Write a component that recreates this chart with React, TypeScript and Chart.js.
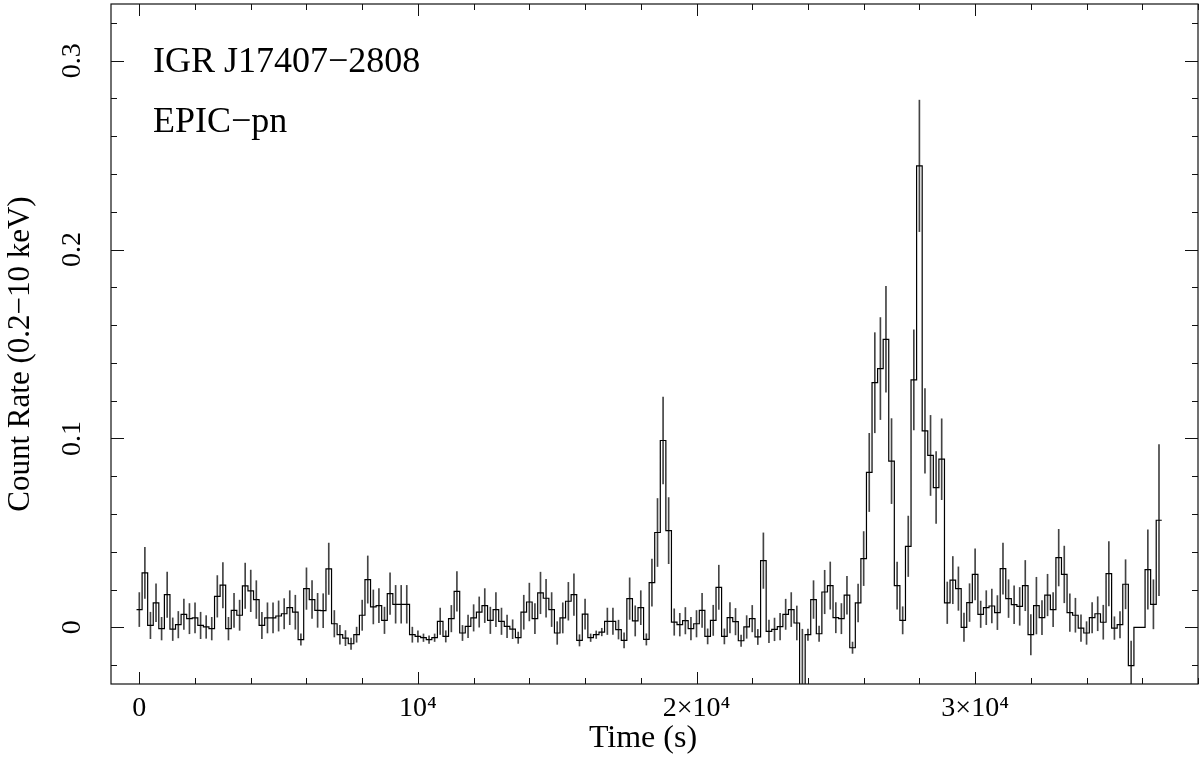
import React, { useEffect, useRef } from 'react';
import { Chart, registerables } from 'chart.js';

Chart.register(...registerables);

// Light curve: 200 s bins, bin k centred at k * 200 s
const binWidthSec = 200;

const countRate: number[] = [
  0.0094, 0.0288, 0.001, 0.013, -0.0007, 0.0173, -0.001, 0.0014, 0.0069, 0.0046,
  0.005, 0.001, 0.0002, -0.0007, 0.0164, 0.0223, -0.0007, 0.009, 0.0064, 0.022,
  0.0193, 0.0147, 0.001, 0.005, 0.005, 0.006, 0.0072, 0.0104, 0.008, -0.0065,
  0.0205, 0.0147, 0.009, 0.0088, 0.031, 0.0019, -0.0039, -0.0057, -0.0087, -0.0039,
  0.0064, 0.0253, 0.0108, 0.0115, 0.0037, 0.0178, 0.0122, 0.0122, 0.0122, -0.0039,
  -0.0048, -0.0055, -0.0065, -0.0055, 0.0032, -0.0048, 0.0046, 0.019, -0.003, 0.0005,
  0.005, 0.0081, 0.0115, 0.0037, 0.0094, 0.0032, 0.0005, -0.001, -0.0055, 0.008,
  0.0134, 0.0046, 0.0182, 0.0154, 0.0094, -0.003, 0.005, 0.0138, 0.0173, -0.0069,
  0.007, -0.0055, -0.0039, -0.0025, 0.0032, 0.0032, -0.0012, -0.0069, 0.0152, 0.0034,
  0.0104, -0.0064, 0.0237, 0.0502, 0.0989, 0.0512, 0.0028, 0.0014, 0.0035, -0.0007,
  0.0019, 0.009, -0.0048, 0.0037, 0.0212, -0.0048, 0.0051, 0.003, -0.0071, 0.0002,
  0.0046, -0.0051, 0.0353, -0.0021, -0.0011, 0.0004, 0.0069, 0.0094, 0.0023, -0.04,
  -0.0039, 0.0147, -0.0034, 0.0187, 0.0221, 0.0051, 0.0046, 0.017, -0.0108, 0.0129,
  0.0364, 0.082, 0.1295, 0.137, 0.1525, 0.088, 0.0221, 0.0037, 0.0429, 0.131,
  0.2443, 0.104, 0.091, 0.074, 0.089, 0.013, 0.025, 0.0205, 0.0, 0.0131,
  0.028, 0.0069, 0.0104, 0.0113, 0.0078, 0.0311, 0.0152, 0.012, 0.0111, 0.0221,
  -0.0039, 0.0115, 0.0051, 0.0171, 0.0094, 0.0369, 0.028, 0.0078, 0.0064, -0.0004,
  -0.003, 0.0051, 0.0072, 0.0027, 0.0284, -0.0004, 0.0014, 0.0228, -0.0203, 0.0,
  0.0, 0.0306, 0.0122, 0.0567,
];

// 1-sigma errors (null = bin drawn without an error bar)
const rateError: (number | null)[] = [
  0.009, 0.0135, 0.007, 0.01, 0.006, 0.012, 0.006, 0.007, 0.008, 0.008,
  0.008, 0.007, 0.006, 0.006, 0.011, 0.012, 0.006, 0.009, 0.008, 0.012,
  0.011, 0.01, 0.007, 0.008, 0.008, 0.008, 0.008, 0.009, 0.009, 0.003,
  0.011, 0.01, 0.009, 0.009, 0.0136, 0.007, 0.005, 0.004, 0.003, 0.004,
  0.008, 0.0125, 0.009, 0.009, 0.007, 0.011, 0.01, 0.01, 0.01, 0.004,
  0.003, 0.002, 0.002, 0.002, 0.007, 0.003, 0.007, 0.0105, 0.004, 0.006,
  0.007, 0.008, 0.009, 0.007, 0.009, 0.007, 0.006, 0.005, 0.003, 0.009,
  0.01, 0.008, 0.011, 0.01, 0.009, 0.006, 0.008, 0.01, 0.011, 0.003,
  0.008, 0.002, 0.002, 0.002, 0.007, 0.007, 0.005, 0.004, 0.011, 0.008,
  0.009, 0.003, 0.0125, 0.018, 0.023, 0.0175, 0.007, 0.006, 0.007, 0.006,
  0.007, 0.009, 0.004, 0.008, 0.0117, 0.004, 0.008, 0.007, 0.003, 0.006,
  0.007, 0.004, 0.0147, 0.006, 0.006, 0.007, 0.008, 0.009, 0.009, 0.039,
  0.003, 0.01, 0.004, 0.0115, 0.0125, 0.008, 0.008, 0.01, 0.003, 0.01,
  0.0143, 0.0207, 0.0265, 0.027, 0.028, 0.0225, 0.0125, 0.0072, 0.016, 0.0265,
  0.0348, 0.0224, 0.0212, 0.019, 0.0214, 0.011, 0.0125, 0.0115, 0.0075, 0.01,
  0.0135, 0.007, 0.009, 0.009, 0.009, 0.0135, 0.01, 0.01, 0.01, 0.0133,
  0.0107, 0.015, 0.009, 0.011, 0.009, 0.015, 0.015, 0.01, 0.009, 0.007,
  0.006, 0.008, 0.009, 0.009, 0.017, 0.006, 0.007, 0.013, 0.013, null,
  null, 0.021, 0.013, 0.04,
];

const xMajorTicks = [0, 10000, 20000, 30000];
const xTickLabels = ['0', '10⁴', '2×10⁴', '3×10⁴'];
const yMajorTicks = [0, 0.1, 0.2, 0.3];
const yTickLabels = ['0', '0.1', '0.2', '0.3'];
const xMinorStep = 2000;
const yMinorStep = 0.02;

const xTitle = 'Time (s)';
const yTitle = 'Count Rate (0.2−10 keV)';
const annotationLines = ['IGR J17407−2808', 'EPIC−pn'];

const FONT = '"Liberation Serif", "Times New Roman", serif';

function drawText(
  ctx: CanvasRenderingContext2D,
  text: string,
  x: number,
  y: number,
  size: number,
  align: 'left' | 'center',
  rotate: boolean,
) {
  ctx.save();
  ctx.font = `${size}px ${FONT}`;
  ctx.textBaseline = 'alphabetic';
  ctx.textAlign = align;
  ctx.translate(x, y);
  if (rotate) ctx.rotate(-Math.PI / 2);
  ctx.fillText(text, 0, 0);
  ctx.restore();
}

const axesPlugin = {
  id: 'pgplotAxes',
  afterDraw(chart: any) {
    const { ctx, chartArea, scales } = chart;
    const { left, right, top, bottom } = chartArea;
    const xs = scales.x;
    const ys = scales.y;
    ctx.save();
    ctx.strokeStyle = '#111';
    ctx.lineWidth = 1.2;
    ctx.strokeRect(left, top, right - left, bottom - top);

    ctx.lineWidth = 1;
    ctx.beginPath();
    const nx = Math.round(xs.max / xMinorStep);
    for (let i = Math.ceil(xs.min / xMinorStep); i <= nx; i++) {
      const v = i * xMinorStep;
      const px = Math.round(xs.getPixelForValue(v)) + 0.5;
      const major = xMajorTicks.includes(v);
      const len = major ? 12 : 6;
      ctx.moveTo(px, bottom);
      ctx.lineTo(px, bottom - len);
      ctx.moveTo(px, top);
      ctx.lineTo(px, top + len);
    }
    const ny = Math.floor(ys.max / yMinorStep + 1e-6);
    for (let i = Math.ceil(ys.min / yMinorStep - 1e-6); i <= ny; i++) {
      const v = Math.round(i * yMinorStep * 1000) / 1000;
      const py = Math.round(ys.getPixelForValue(v)) + 0.5;
      const major = yMajorTicks.some((m) => Math.abs(m - v) < 1e-9);
      const len = major ? 13 : 6;
      ctx.moveTo(left, py);
      ctx.lineTo(left + len, py);
      ctx.moveTo(right, py);
      ctx.lineTo(right - len, py);
    }
    ctx.stroke();

    ctx.fillStyle = '#000';
    xMajorTicks.forEach((v, i) => {
      drawText(ctx, xTickLabels[i], xs.getPixelForValue(v), 716, 28, 'center', false);
    });
    yMajorTicks.forEach((v, i) => {
      drawText(ctx, yTickLabels[i], 80, ys.getPixelForValue(v), 28, 'center', true);
    });
    drawText(ctx, xTitle, 643, 747, 32, 'center', false);
    drawText(ctx, yTitle, 29, 354, 31, 'center', true);
    drawText(ctx, annotationLines[0], 153, 72, 36, 'left', false);
    drawText(ctx, annotationLines[1], 153, 132, 36, 'left', false);
    ctx.restore();
  },
};

export default function App() {
  const canvasRef = useRef<HTMLCanvasElement | null>(null);

  useEffect(() => {
    const canvas = canvasRef.current;
    if (!canvas) return;
    const n = countRate.length;
    const stepPoints = countRate.map((v, i) => ({ x: i * binWidthSec - binWidthSec / 2, y: v }));
    stepPoints.push({ x: (n - 1) * binWidthSec + binWidthSec / 2, y: countRate[n - 1] });
    const errPoints: { x: number; y: [number, number] }[] = [];
    countRate.forEach((v, i) => {
      const e = rateError[i];
      if (e != null) errPoints.push({ x: i * binWidthSec, y: [v - e, v + e] });
    });

    const chart = new Chart(canvas, {
      type: 'line',
      data: {
        datasets: [
          {
            type: 'line',
            data: stepPoints,
            stepped: 'before',
            borderColor: '#000',
            borderWidth: 1.2,
            pointRadius: 0,
            fill: false,
            order: 1,
          } as any,
          {
            type: 'bar',
            data: errPoints,
            backgroundColor: '#444',
            borderWidth: 0,
            barThickness: 1,
            order: 2,
          } as any,
        ],
      },
      options: {
        animation: false,
        responsive: false,
        maintainAspectRatio: false,
        events: [],
        layout: { padding: { left: 111, top: 4, right: 2, bottom: 73 } },
        plugins: { legend: { display: false }, tooltip: { enabled: false } },
        scales: {
          x: { type: 'linear', display: false, min: -1016, max: 38000, offset: false, grid: { offset: false } },
          y: { type: 'linear', display: false, min: -0.03, max: 0.33 },
        },
      } as any,
      plugins: [axesPlugin],
    });
    return () => chart.destroy();
  }, []);

  return (
    <div style={{ position: 'fixed', left: 0, top: 0, width: 1200, height: 757, background: '#fff' }}>
      <canvas ref={canvasRef} width={1200} height={757} style={{ display: 'block' }} />
    </div>
  );
}
